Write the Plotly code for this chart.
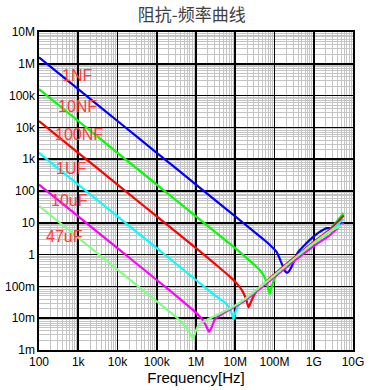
import math
import plotly.graph_objects as go

# ---- data (frequency in Hz, impedance in ohm) ----
f_1nF = [1e2, 1e3, 1e4, 1e5, 1e6, 1e7, 2.51e7, 6.31e7, 1.12e8, 1.51e8, 1.86e8, 2.14e8, 2.51e8, 2.95e8, 3.98e8, 5.62e8, 7.94e8, 1.12e9, 1.58e9, 2.14e9, 2.82e9, 3.55e9, 4.47e9, 5.62e9]
z_1nF = [1.59e6, 1.59e5, 1.59e4, 1590, 159, 15.9, 6.3, 2.5, 1.23, 0.54, 0.30, 0.27, 0.34, 0.52, 1.2, 1.9, 2.9, 4.2, 5.6, 6.8, 6.9, 8.7, 11.5, 17.4]

f_10nF = [1e2, 1e3, 1e4, 1e5, 1e6, 1e7, 2e7, 3.16e7, 4.47e7, 5.62e7, 6.61e7, 7.41e7, 8.13e7, 9.12e7, 1.12e8, 1.41e8, 2e8, 3.72e8, 1e9, 2.63e9, 5.75e9]
z_10nF = [1.59e5, 1.59e4, 1590, 159, 15.9, 1.59, 0.76, 0.46, 0.30, 0.19, 0.105, 0.059, 0.083, 0.13, 0.22, 0.32, 0.47, 0.83, 2.5, 6.3, 20.4]

f_100nF = [1e2, 1e3, 1e4, 1e5, 1e6, 3.16e6, 7.08e6, 1.12e7, 1.58e7, 1.91e7, 2.19e7, 2.45e7, 2.82e7, 3.55e7, 5.01e7, 6.46e7, 1.41e8, 3.72e8, 1e9, 2.63e9, 5.75e9]
z_100nF = [1.59e4, 1590, 159, 15.9, 1.59, 0.49, 0.21, 0.12, 0.066, 0.038, 0.022, 0.030, 0.045, 0.076, 0.11, 0.15, 0.35, 0.95, 2.5, 6.2, 16.6]

f_1uF = [1e2, 1e3, 1e4, 1e5, 1e6, 3.16e6, 5.62e6, 7.41e6, 8.51e6, 9.12e6, 1e7, 1.2e7, 1.58e7, 2.51e7, 4.37e7, 1.41e8, 3.72e8, 1e9, 2.63e9, 5.75e9]
z_1uF = [1590, 159, 15.9, 1.59, 0.159, 0.050, 0.030, 0.019, 0.012, 0.0093, 0.015, 0.025, 0.035, 0.051, 0.093, 0.32, 0.87, 2.3, 5.5, 13.2]

f_10uF = [1e2, 1e3, 1e4, 1e5, 3.16e5, 1e6, 1.41e6, 1.78e6, 2.14e6, 2.51e6, 2.95e6, 3.55e6, 7.41e6, 1.62e7, 4.37e7, 1.41e8, 3.72e8, 1e9, 2.63e9, 5.75e9]
z_10uF = [159, 15.9, 1.59, 0.159, 0.050, 0.015, 0.0095, 0.0060, 0.0038, 0.0052, 0.0087, 0.011, 0.019, 0.033, 0.087, 0.28, 0.74, 1.86, 4.2, 10]

f_47uF = [1e2, 1e3, 1e4, 1e5, 3.16e5, 5.62e5, 7.08e5, 8.32e5, 9.55e5, 1.12e6, 1.55e6, 3.39e6, 7.41e6, 1.62e7, 4.37e7, 1.41e8, 3.72e8, 1e9, 2.63e9, 5.5e9]
z_47uF = [33.9, 3.39, 0.339, 0.0339, 0.0107, 0.0052, 0.0033, 0.0022, 0.0035, 0.0056, 0.0078, 0.0126, 0.0204, 0.037, 0.098, 0.32, 0.87, 2.3, 5.5, 8.5]

series_names = ["1NF", "10NF", "100NF", "1UF", "10uF", "47uF"]
series_colors = ["#0000ff", "#00ff00", "#ff0000", "#00ffff", "#ff00ff", "#80ff80"]

# label anchor positions, Hz / ohm
label_f = [9.3e2, 9.3e2, 1.02e3, 6.5e2, 5.9e2, 4.4e2]
label_z = [4.2e5, 4.7e4, 5.8e3, 520, 52, 3.6]

x_tickvals = [1e2, 1e3, 1e4, 1e5, 1e6, 1e7, 1e8, 1e9, 1e10]
x_ticktext = ["100", "1k", "10k", "100k", "1M", "10M", "100M", "1G", "10G"]
y_tickvals = [1e-3, 1e-2, 1e-1, 1, 10, 100, 1e3, 1e4, 1e5, 1e6, 1e7]
y_ticktext = ["1m", "10m", "100m", "1", "10", "100", "1k", "10k", "100k", "1M", "10M"]

freqs = [f_1nF, f_10nF, f_100nF, f_1uF, f_10uF, f_47uF]
imps = [z_1nF, z_10nF, z_100nF, z_1uF, z_10uF, z_47uF]

fig = go.Figure()
for name, col, fx, zy in zip(series_names, series_colors, freqs, imps):
    fig.add_trace(go.Scatter(x=fx, y=zy, mode="lines", name=name,
                             line=dict(color=col, width=2.2, shape="spline", smoothing=0.6),
                             showlegend=False, hoverinfo="skip"))

# annotations on log axes take log10 positions
for name, lf, lz in zip(series_names, label_f, label_z):
    fig.add_annotation(x=math.log10(lf), y=math.log10(lz), xref="x", yref="y", text=name, showarrow=False,
                       font=dict(family="Liberation Sans, Arial", size=16, color="#ff3b3b"),
                       xanchor="center", yanchor="middle")

axis_common = dict(
    type="log",
    showgrid=True, gridcolor="#000000", gridwidth=1.6,
    minor=dict(dtick="D1", showgrid=True, gridcolor="#c4c4c4", gridwidth=1, ticks=""),
    showline=True, linecolor="#000000", linewidth=1.6, mirror=True,
    ticks="", zeroline=False, automargin=False,
    tickfont=dict(family="Liberation Sans, Arial", size=12, color="#000000"),
)

fig.update_xaxes(range=[2, 10], tickvals=x_tickvals, ticktext=x_ticktext,
                 title=dict(text="Frequency[Hz]", font=dict(family="Liberation Sans, Arial", size=15, color="#000000"), standoff=4),
                 **axis_common)
fig.update_yaxes(range=[-3, 7], tickvals=y_tickvals, ticktext=y_ticktext, **axis_common)

fig.update_layout(
    width=371, height=390,
    margin=dict(l=39, r=18, t=32, b=40, autoexpand=False),
    paper_bgcolor="#ffffff", plot_bgcolor="#ffffff",
    hovermode=False,
    title=dict(text="阻抗-频率曲线", x=0.517, xanchor="center", y=0.962, yanchor="middle",
               font=dict(family="Noto Sans CJK SC", size=17, color="#404040")),
)

fig.write_html("out.html", config={"displayModeBar": False, "staticPlot": True},
               post_script="document.body.style.margin='0px';")
